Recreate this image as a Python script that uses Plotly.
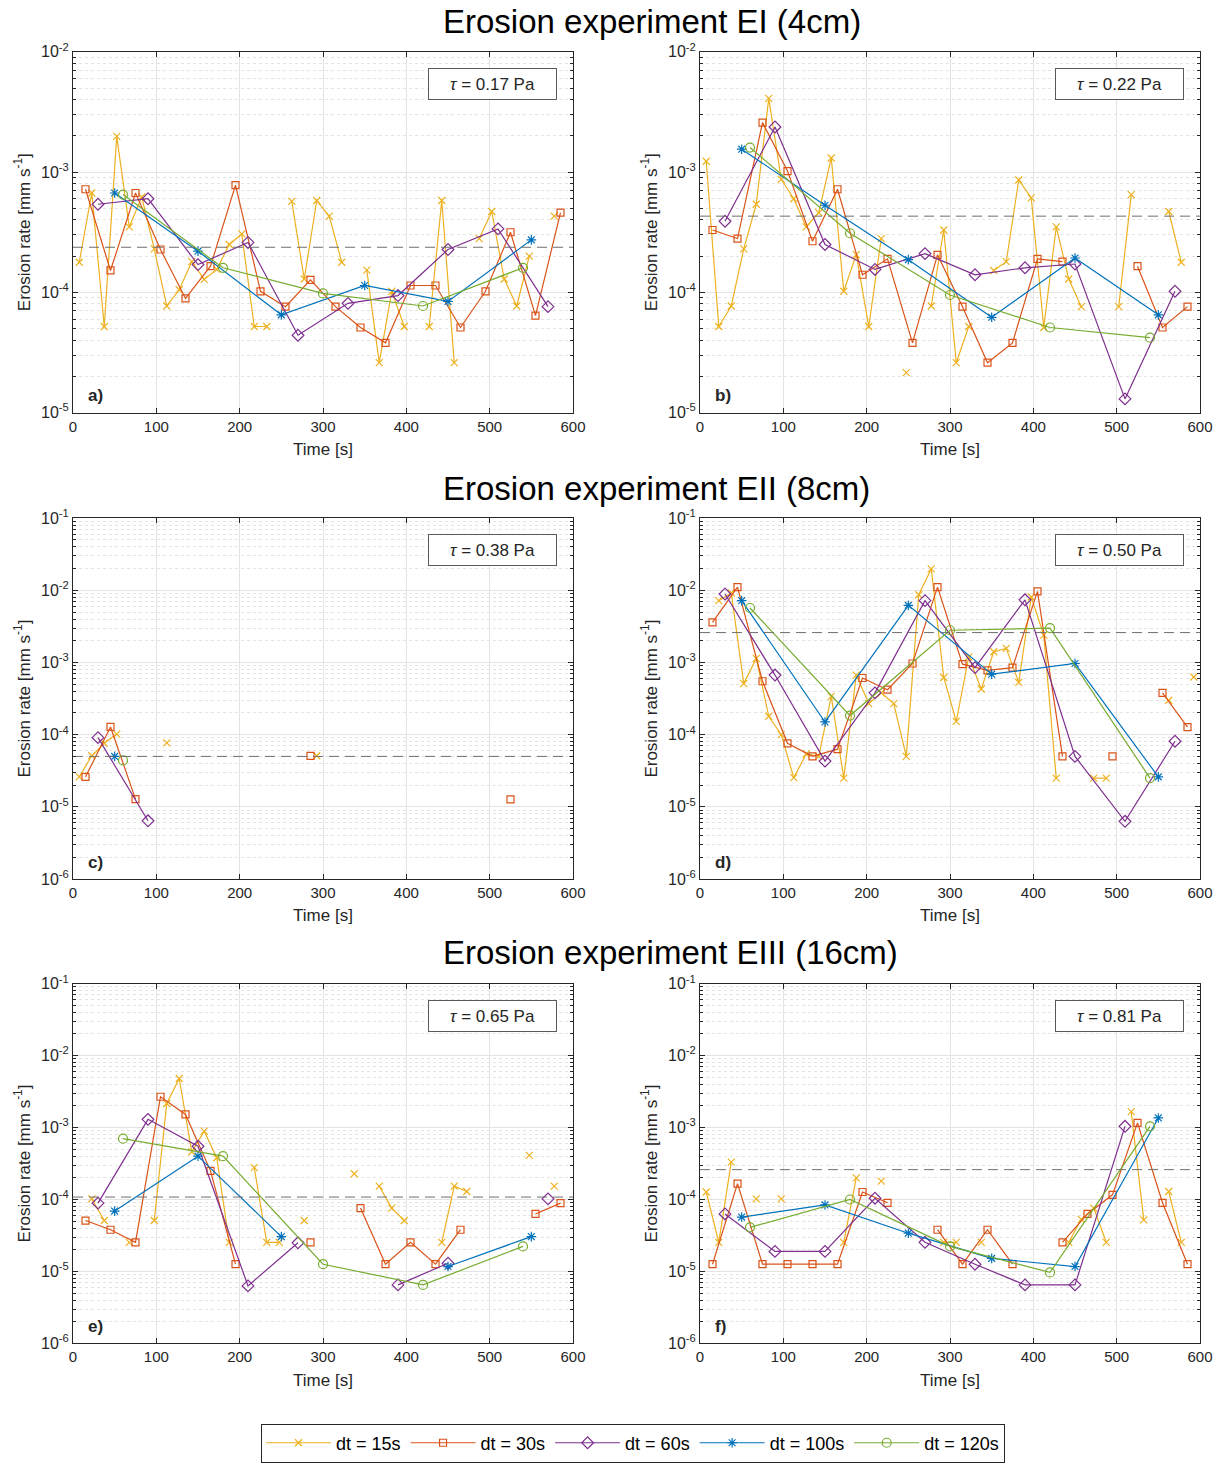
import plotly.graph_objects as go
from plotly.subplots import make_subplots

N = None
# ---------------- time stamps (s) ----------------
t15 = [7.5, 22.5, 37.5, 52.5, 67.5, 82.5, 97.5, 112.5, 127.5, 142.5,
       157.5, 172.5, 187.5, 202.5, 217.5, 232.5, 247.5, 262.5, 277.5, 292.5,
       307.5, 322.5, 337.5, 352.5, 367.5, 382.5, 397.5, 412.5, 427.5, 442.5,
       457.5, 472.5, 487.5, 502.5, 517.5, 532.5, 547.5, 562.5, 577.5, 592.5]
t30 = [15, 45, 75, 105, 135, 165, 195, 225, 255, 285,
       315, 345, 375, 405, 435, 465, 495, 525, 555, 585]
t60 = [30, 90, 150, 210, 270, 330, 390, 450, 510, 570]
t100 = [50, 150, 250, 350, 450, 550]
t120 = [60, 180, 300, 420, 540]

# ---------------- a) tau = 0.17 Pa ----------------
a15 = [1.78e-4, 6.7e-4, 5.2e-5, 1.98e-3, 3.5e-4, 6.2e-4, 2.3e-4, 7.7e-5, 1.05e-4, 1.8e-4,
       1.28e-4, 1.55e-4, 2.5e-4, 3.06e-4, 5.2e-5, 5.2e-5, N, 5.7e-4, 1.29e-4, 5.8e-4,
       4.3e-4, 1.78e-4, N, 1.53e-4, 2.6e-5, 1.02e-4, 5.2e-5, N, 5.2e-5, 5.8e-4,
       2.6e-5, N, 2.8e-4, 4.7e-4, 1.29e-4, 7.7e-5, 2.0e-4, N, 4.3e-4, N]
a30 = [7.2e-4, 1.52e-4, 6.7e-4, 2.27e-4, 8.9e-5, 1.65e-4, 7.8e-4, 1.02e-4, 7.6e-5, 1.27e-4,
       7.6e-5, 5.1e-5, 3.8e-5, 1.14e-4, 1.14e-4, 5.1e-5, 1.02e-4, 3.16e-4, 6.4e-5, 4.6e-4]
a60 = [5.4e-4, 6.0e-4, 1.7e-4, 2.6e-4, 4.4e-5, 8.1e-5, 9.4e-5, 2.27e-4, 3.37e-4, 7.6e-5]
a100 = [6.7e-4, 2.2e-4, 6.5e-5, 1.14e-4, 8.4e-5, 2.73e-4]
a120 = [6.5e-4, 1.6e-4, 9.8e-5, 7.7e-5, 1.6e-4]

# ---------------- b) tau = 0.22 Pa ----------------
b15 = [1.23e-3, 5.2e-5, 7.7e-5, 2.3e-4, 5.4e-4, 4.1e-3, 8.7e-4, 6.0e-4, 3.5e-4, 4.6e-4,
       1.31e-3, 1.02e-4, 2.06e-4, 5.2e-5, 2.8e-4, N, 2.15e-5, N, 7.7e-5, 3.3e-4,
       2.6e-5, 5.2e-5, N, 1.52e-4, 1.8e-4, 8.6e-4, 6.1e-4, 5.1e-5, 3.5e-4, 1.29e-4,
       7.6e-5, N, N, 7.6e-5, 6.5e-4, N, N, 4.7e-4, 1.78e-4, N]
b30 = [3.3e-4, 2.8e-4, 2.58e-3, 1.02e-3, 2.66e-4, 7.2e-4, 1.4e-4, 1.9e-4, 3.8e-5, 2.05e-4,
       7.6e-5, 2.6e-5, 3.8e-5, 1.9e-4, 1.8e-4, N, N, 1.65e-4, 5.1e-5, 7.6e-5]
b60 = [3.9e-4, 2.37e-3, 2.5e-4, 1.55e-4, 2.1e-4, 1.4e-4, 1.6e-4, 1.72e-4, 1.3e-5, 1.02e-4]
b100 = [1.55e-3, 5.3e-4, 1.87e-4, 6.2e-5, 1.93e-4, 6.5e-5]
b120 = [1.6e-3, 3.1e-4, 9.5e-5, 5.1e-5, 4.2e-5]

# ---------------- c) tau = 0.38 Pa ----------------
c15 = [2.6e-5, 5.1e-5, 7.6e-5, 1.02e-4, N, N, N, 7.7e-5, N, N,
       N, N, N, N, N, N, N, N, N, 5.1e-5,
       N, N, N, N, N, N, N, N, N, N,
       N, N, N, N, N, N, N, N, N, N]
c30 = [2.6e-5, 1.28e-4, 1.28e-5, N, N, N, N, N, N, 5.1e-5,
       N, N, N, N, N, N, N, 1.27e-5, N, N]
c60 = [9.1e-5, 6.4e-6, N, N, N, N, N, N, N, N]
c100 = [5.0e-5, N, N, N, N, N]
c120 = [4.4e-5, N, N, N, N]

# ---------------- d) tau = 0.50 Pa ----------------
d15 = [N, 7.2e-3, 9.2e-3, 5.1e-4, 1.14e-3, 1.8e-4, 1.0e-4, 2.54e-5, 5.4e-5, 5.0e-5,
       3.4e-4, 2.5e-5, 6.7e-4, 2.7e-4, 3.8e-4, 2.7e-4, 5.0e-5, 8.7e-3, 1.99e-2, 6.2e-4,
       1.53e-4, 1.2e-3, 4.3e-4, 1.41e-3, 1.57e-3, 5.3e-4, 8.1e-3, 2.4e-3, 2.5e-5, N,
       N, 2.5e-5, 2.5e-5, N, N, N, N, 3.0e-4, N, 6.3e-4]
d30 = [3.6e-3, 1.11e-2, 5.5e-4, 7.6e-5, 5.0e-5, 6.3e-5, 6.1e-4, 4.2e-4, 9.7e-4, 1.11e-2,
       9.5e-4, 7.8e-4, 8.5e-4, 9.7e-3, 5.0e-5, N, 5.0e-5, N, 3.8e-4, 1.27e-4]
d60 = [8.9e-3, 6.7e-4, 4.3e-5, 3.8e-4, 7.2e-3, 8.5e-4, 7.4e-3, 5.0e-5, 6.3e-6, 8.1e-5]
d100 = [7.2e-3, 1.5e-4, 6.2e-3, 6.9e-4, 9.7e-4, 2.6e-5]
d120 = [5.7e-3, 1.84e-4, 2.8e-3, 3.0e-3, 2.5e-5]

# ---------------- e) tau = 0.65 Pa ----------------
e15 = [N, 1.02e-4, 5.1e-5, N, 2.54e-5, N, 5.1e-5, 2.16e-3, 4.8e-3, 4.6e-4,
       8.9e-4, 3.8e-4, 2.54e-5, N, 2.77e-4, 2.54e-5, 2.54e-5, N, 5.1e-5, N,
       N, N, 2.28e-4, N, 1.53e-4, 7.6e-5, 5.1e-5, N, N, 2.54e-5,
       1.53e-4, 1.29e-4, N, N, N, N, 4.1e-4, N, 1.53e-4, N]
e30 = [5.1e-5, 3.8e-5, 2.54e-5, 2.68e-3, 1.52e-3, 2.5e-4, 1.26e-5, N, N, 2.54e-5,
       N, 7.6e-5, 1.26e-5, 2.54e-5, 1.26e-5, 3.8e-5, N, N, 6.3e-5, 8.9e-5]
e60 = [8.9e-5, 1.3e-3, 5.5e-4, 6.3e-6, 2.5e-5, N, 6.5e-6, 1.3e-5, N, 1.02e-4]
e100 = [6.9e-5, 4.0e-4, 3.05e-5, N, 1.17e-5, 3.05e-5]
e120 = [7.0e-4, 4.0e-4, 1.26e-5, 6.5e-6, 2.23e-5]

# ---------------- f) tau = 0.81 Pa ----------------
f15 = [1.27e-4, 2.54e-5, 3.3e-4, N, 1.02e-4, N, 1.02e-4, N, N, N,
       N, 2.54e-5, 2.0e-4, N, 1.8e-4, N, N, N, N, 2.54e-5,
       2.54e-5, N, 2.54e-5, N, N, N, N, N, N, 2.54e-5,
       5.3e-5, 7.6e-5, 2.54e-5, N, 1.66e-3, 5.2e-5, N, 1.29e-4, 2.54e-5, N]
f30 = [1.26e-5, 1.66e-4, 1.26e-5, 1.26e-5, 1.26e-5, 1.26e-5, 1.27e-4, 9.0e-5, N, 3.8e-5,
       1.26e-5, 3.8e-5, 1.26e-5, N, 2.54e-5, 6.3e-5, 1.16e-4, 1.16e-3, 9.0e-5, 1.26e-5]
f60 = [6.3e-5, 1.9e-5, 1.9e-5, 1.04e-4, 2.54e-5, 1.26e-5, 6.5e-6, 6.5e-6, 1.04e-3, N]
f100 = [5.7e-5, 8.4e-5, 3.4e-5, 1.52e-5, 1.17e-5, 1.36e-3]
f120 = [4.1e-5, 1.0e-4, 2.23e-5, 9.7e-6, 1.04e-3]

# mean erosion rate (dashed line) per panel
mean_rates = [2.37e-4, 4.3e-4, 5.0e-5, 2.6e-3, 1.08e-4, 2.6e-4]
mean_span = [0, 600]

panel_letters = ["a)", "b)", "c)", "d)", "e)", "f)"]
tau_labels = ["0.17", "0.22", "0.38", "0.50", "0.65", "0.81"]
exp_titles = ["Erosion experiment EI (4cm)", "Erosion experiment EII (8cm)",
              "Erosion experiment EIII (16cm)"]
series_names = ["dt = 15s", "dt = 30s", "dt = 60s", "dt = 100s", "dt = 120s"]

panels = [
    [a15, a30, a60, a100, a120],
    [b15, b30, b60, b100, b120],
    [c15, c30, c60, c100, c120],
    [d15, d30, d60, d100, d120],
    [e15, e30, e60, e100, e120],
    [f15, f30, f60, f100, f120],
]
times = [t15, t30, t60, t100, t120]

# ---------------- styling ----------------
W, H = 1223, 1463
FONT = "Arial, Liberation Sans, sans-serif"
colors = ["#EDB120", "#D95319", "#7E2F8E", "#0072BD", "#77AC30"]
symbols = ["x-thin-open", "square-open", "diamond-open", "asterisk-open", "circle-open"]
msizes = [7, 7, 9, 8, 9]
AX = "#262626"

fig = make_subplots(rows=3, cols=2)

xdoms = [[73 / W, 573 / W], [700 / W, 1200 / W]]
ydoms = [[1 - 414 / H, 1 - 52 / H], [1 - 882 / H, 1 - 520 / H], [1 - 1348 / H, 1 - 987 / H]]

for p in range(6):
    r, c = p // 2 + 1, p % 2 + 1
    for s in range(5):
        fig.add_trace(go.Scatter(
            x=times[s], y=panels[p][s], mode="lines+markers",
            name=series_names[s], legendgroup=series_names[s],
            showlegend=(p == 0), connectgaps=False,
            line=dict(color=colors[s], width=1.2),
            marker=dict(symbol=symbols[s], size=msizes[s], color=colors[s],
                        line=dict(color=colors[s], width=1.2)),
        ), row=r, col=c)
    fig.add_trace(go.Scatter(
        x=mean_span, y=[mean_rates[p], mean_rates[p]], mode="lines",
        showlegend=False, hoverinfo="skip",
        line=dict(color="#6e6e6e", width=1, dash="10px,6px"),
    ), row=r, col=c)

for p in range(6):
    r, c = p // 2 + 1, p % 2 + 1
    idx = "" if p == 0 else str(p + 1)
    if p < 2:
        lo, hi = -5, -2
    else:
        lo, hi = -6, -1
    major = [10.0 ** e for e in range(lo, hi + 1)]
    minor = [k * 10.0 ** e for e in range(lo, hi) for k in range(2, 10)]
    fig.layout["xaxis" + idx].update(
        domain=xdoms[c - 1], range=[0, 600], tickvals=[0, 100, 200, 300, 400, 500, 600],
        ticks="inside", ticklen=5, tickcolor=AX, showline=True, linecolor=AX, linewidth=1,
        mirror="ticks", showgrid=True, gridcolor="#e3e3e3", gridwidth=1, zeroline=False,
        tickfont=dict(family=FONT, size=15, color=AX),
        title=dict(text="Time [s]", font=dict(family=FONT, size=17, color=AX), standoff=9),
        automargin=False,
    )
    fig.layout["yaxis" + idx].update(
        domain=ydoms[r - 1], type="log", range=[lo, hi],
        tickvals=major, ticktext=["10<sup>%d</sup>" % e for e in range(lo, hi + 1)],
        ticks="inside", ticklen=5, tickcolor=AX, showline=True, linecolor=AX, linewidth=1,
        mirror="ticks", showgrid=True, gridcolor="#e3e3e3", gridwidth=1, zeroline=False,
        minor=dict(tickmode="array", tickvals=minor, ticks="inside", ticklen=3, tickcolor=AX,
                   showgrid=True, gridcolor="#e3e3e3", griddash="dot", gridwidth=1),
        tickfont=dict(family=FONT, size=16, color=AX),
        title=dict(text="Erosion rate [mm s<sup>-1</sup>]",
                   font=dict(family=FONT, size=17, color=AX), standoff=6),
        automargin=False,
    )
    xref = "x" + idx + " domain"
    yref = "y" + idx + " domain"
    fig.add_annotation(
        x=0.968, y=1 - 16 / 362, xref=xref, yref=yref, xanchor="right", yanchor="top",
        text="<i>τ</i> = %s Pa" % tau_labels[p], showarrow=False,
        font=dict(family=FONT, size=17, color=AX),
        bordercolor="#5a5a5a", borderwidth=1, borderpad=1, bgcolor="white",
        width=125, height=28,
    )
    fig.add_annotation(
        x=13 / 500, y=17 / 362, xref=xref, yref=yref, xanchor="left", yanchor="middle",
        text="<b>%s</b>" % panel_letters[p], showarrow=False,
        font=dict(family=FONT, size=17, color=AX),
    )

for i, ypx in enumerate([22, 490, 956]):
    fig.add_annotation(
        x=441 / W, y=1 - ypx / H, xref="paper", yref="paper", xanchor="left",
        yanchor="middle", text=exp_titles[i], showarrow=False,
        font=dict(family=FONT, size=33, color="black"),
    )

fig.update_layout(
    width=W, height=H, margin=dict(l=0, r=0, t=0, b=0),
    paper_bgcolor="white", plot_bgcolor="white",
    font=dict(family=FONT, color=AX),
    legend=dict(orientation="h", x=633 / W, xanchor="center", y=1 - 1448 / H,
                yanchor="middle", bordercolor=AX, borderwidth=1, bgcolor="white",
                font=dict(family=FONT, size=18, color="black"), itemwidth=65,
                tracegroupgap=0),
)

fig.write_html("out.html")
